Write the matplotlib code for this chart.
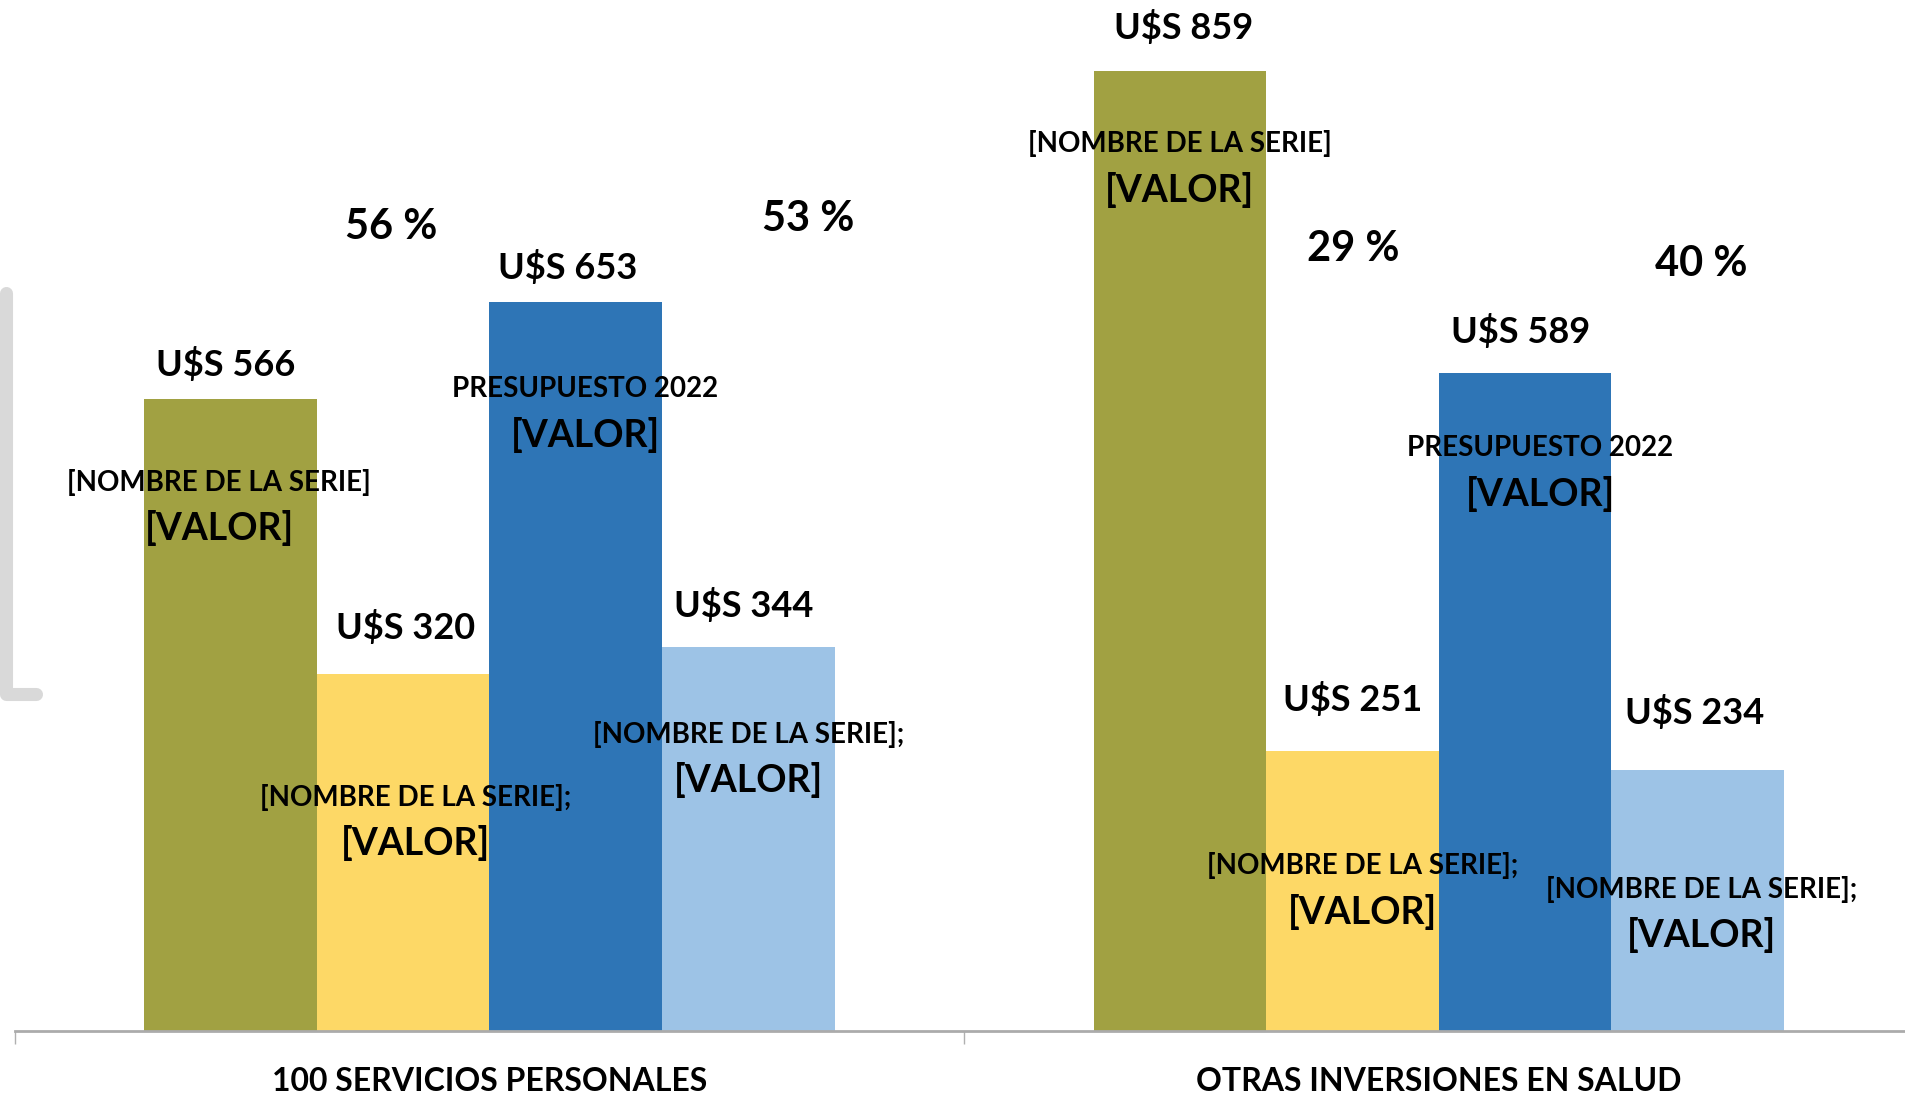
from matplotlib import pyplot as plt
from matplotlib.lines import Line2D
import numpy as np

plt.rcParams['font.family'] = ['Lato', 'DejaVu Sans']

categories = ['100 SERVICIOS PERSONALES', 'OTRAS INVERSIONES EN SALUD']
series_names = ['[NOMBRE DE LA SERIE]', '[NOMBRE DE LA SERIE];', 'PRESUPUESTO 2022', '[NOMBRE DE LA SERIE];']
colors = ['#A1A142', '#FDD866', '#2E75B6', '#9DC3E6']

# values per series: [servicios personales, otras inversiones]
values = [
    [566, 859],
    [320, 251],
    [653, 589],
    [344, 234],
]

# percentage labels as shown in the chart
pct_labels = [[56, 53], [29, 40]]
pct_x = [[-0.103, 0.336], [-0.090, 0.276]]
pct_y = [[720, 727], [700, 687]]

# value label offsets above the bar top (points)
val_dx = [[-3.5, 2.6], [1.8, 0], [-6, -3.5], [-3.5, -2.6]]
val_dy = [[24.5, 32], [33, 37], [24.5, 30], [30, 41]]

# inside label offsets (points) for each series, per category
name_dx = [[-8, 0], [9, 7], [7, 11], [0, 3]]
name_dy = [[-60, -52], [-89, -83], [-63, -54], [-63, -86]]

fig = plt.figure(figsize=(19.06, 10.96), dpi=100)
ax = fig.add_axes([14.6 / 1906, 65 / 1096, 1899 / 1906, 1031 / 1096])

x = np.arange(len(categories))
w = 0.1818
offsets = [-1.5, -0.5, 0.5, 1.5]

for i, vals in enumerate(values):
    xs = x + offsets[i] * w
    ax.bar(xs, vals, width=w, color=colors[i], zorder=2)
    for j, v in enumerate(vals):
        ax.annotate('U$S %d' % v, (xs[j], v), xytext=(val_dx[i][j], val_dy[i][j]),
                    textcoords='offset points', ha='center', va='center',
                    fontsize=26, fontweight='bold', zorder=5)
        ax.annotate(series_names[i], (xs[j], v), xytext=(name_dx[i][j], name_dy[i][j]),
                    textcoords='offset points', ha='center', va='center',
                    fontsize=20, fontweight='bold', zorder=5)
        ax.annotate('[VALOR]', (xs[j], v), xytext=(name_dx[i][j], name_dy[i][j] - 33),
                    textcoords='offset points', ha='center', va='center',
                    fontsize=27, fontweight='bold', zorder=5)

for j in range(len(categories)):
    for k in range(2):
        ax.text(j + pct_x[j][k], pct_y[j][k], '%d %%' % pct_labels[j][k], ha='center',
                va='center', fontsize=30, fontweight='bold', zorder=5)

ax.set_xlim(-0.5, 1.5)
ax.set_ylim(0, 923)
for s in ['top', 'right', 'left']:
    ax.spines[s].set_visible(False)
ax.spines['bottom'].set_color('#ABABAB')
ax.spines['bottom'].set_linewidth(2)
ax.set_yticks([])
ax.set_xticks(x)
ax.set_xticklabels(categories, fontsize=23, fontweight='bold')
ax.tick_params(axis='x', which='major', length=0, pad=26)
ax.set_xticks([-0.5, 0.5, 1.5], minor=True)
ax.tick_params(axis='x', which='minor', length=9, width=1, color='#B0B0B0', direction='out')

# grey bracket on the left edge
fig.add_artist(Line2D([6 / 1906, 6 / 1906, 36 / 1906],
                      [1 - 293 / 1096, 1 - 694 / 1096, 1 - 694 / 1096],
                      color='#D9D9D9', linewidth=9.4, solid_capstyle='round',
                      solid_joinstyle='round', transform=fig.transFigure))

plt.savefig('out.png')
